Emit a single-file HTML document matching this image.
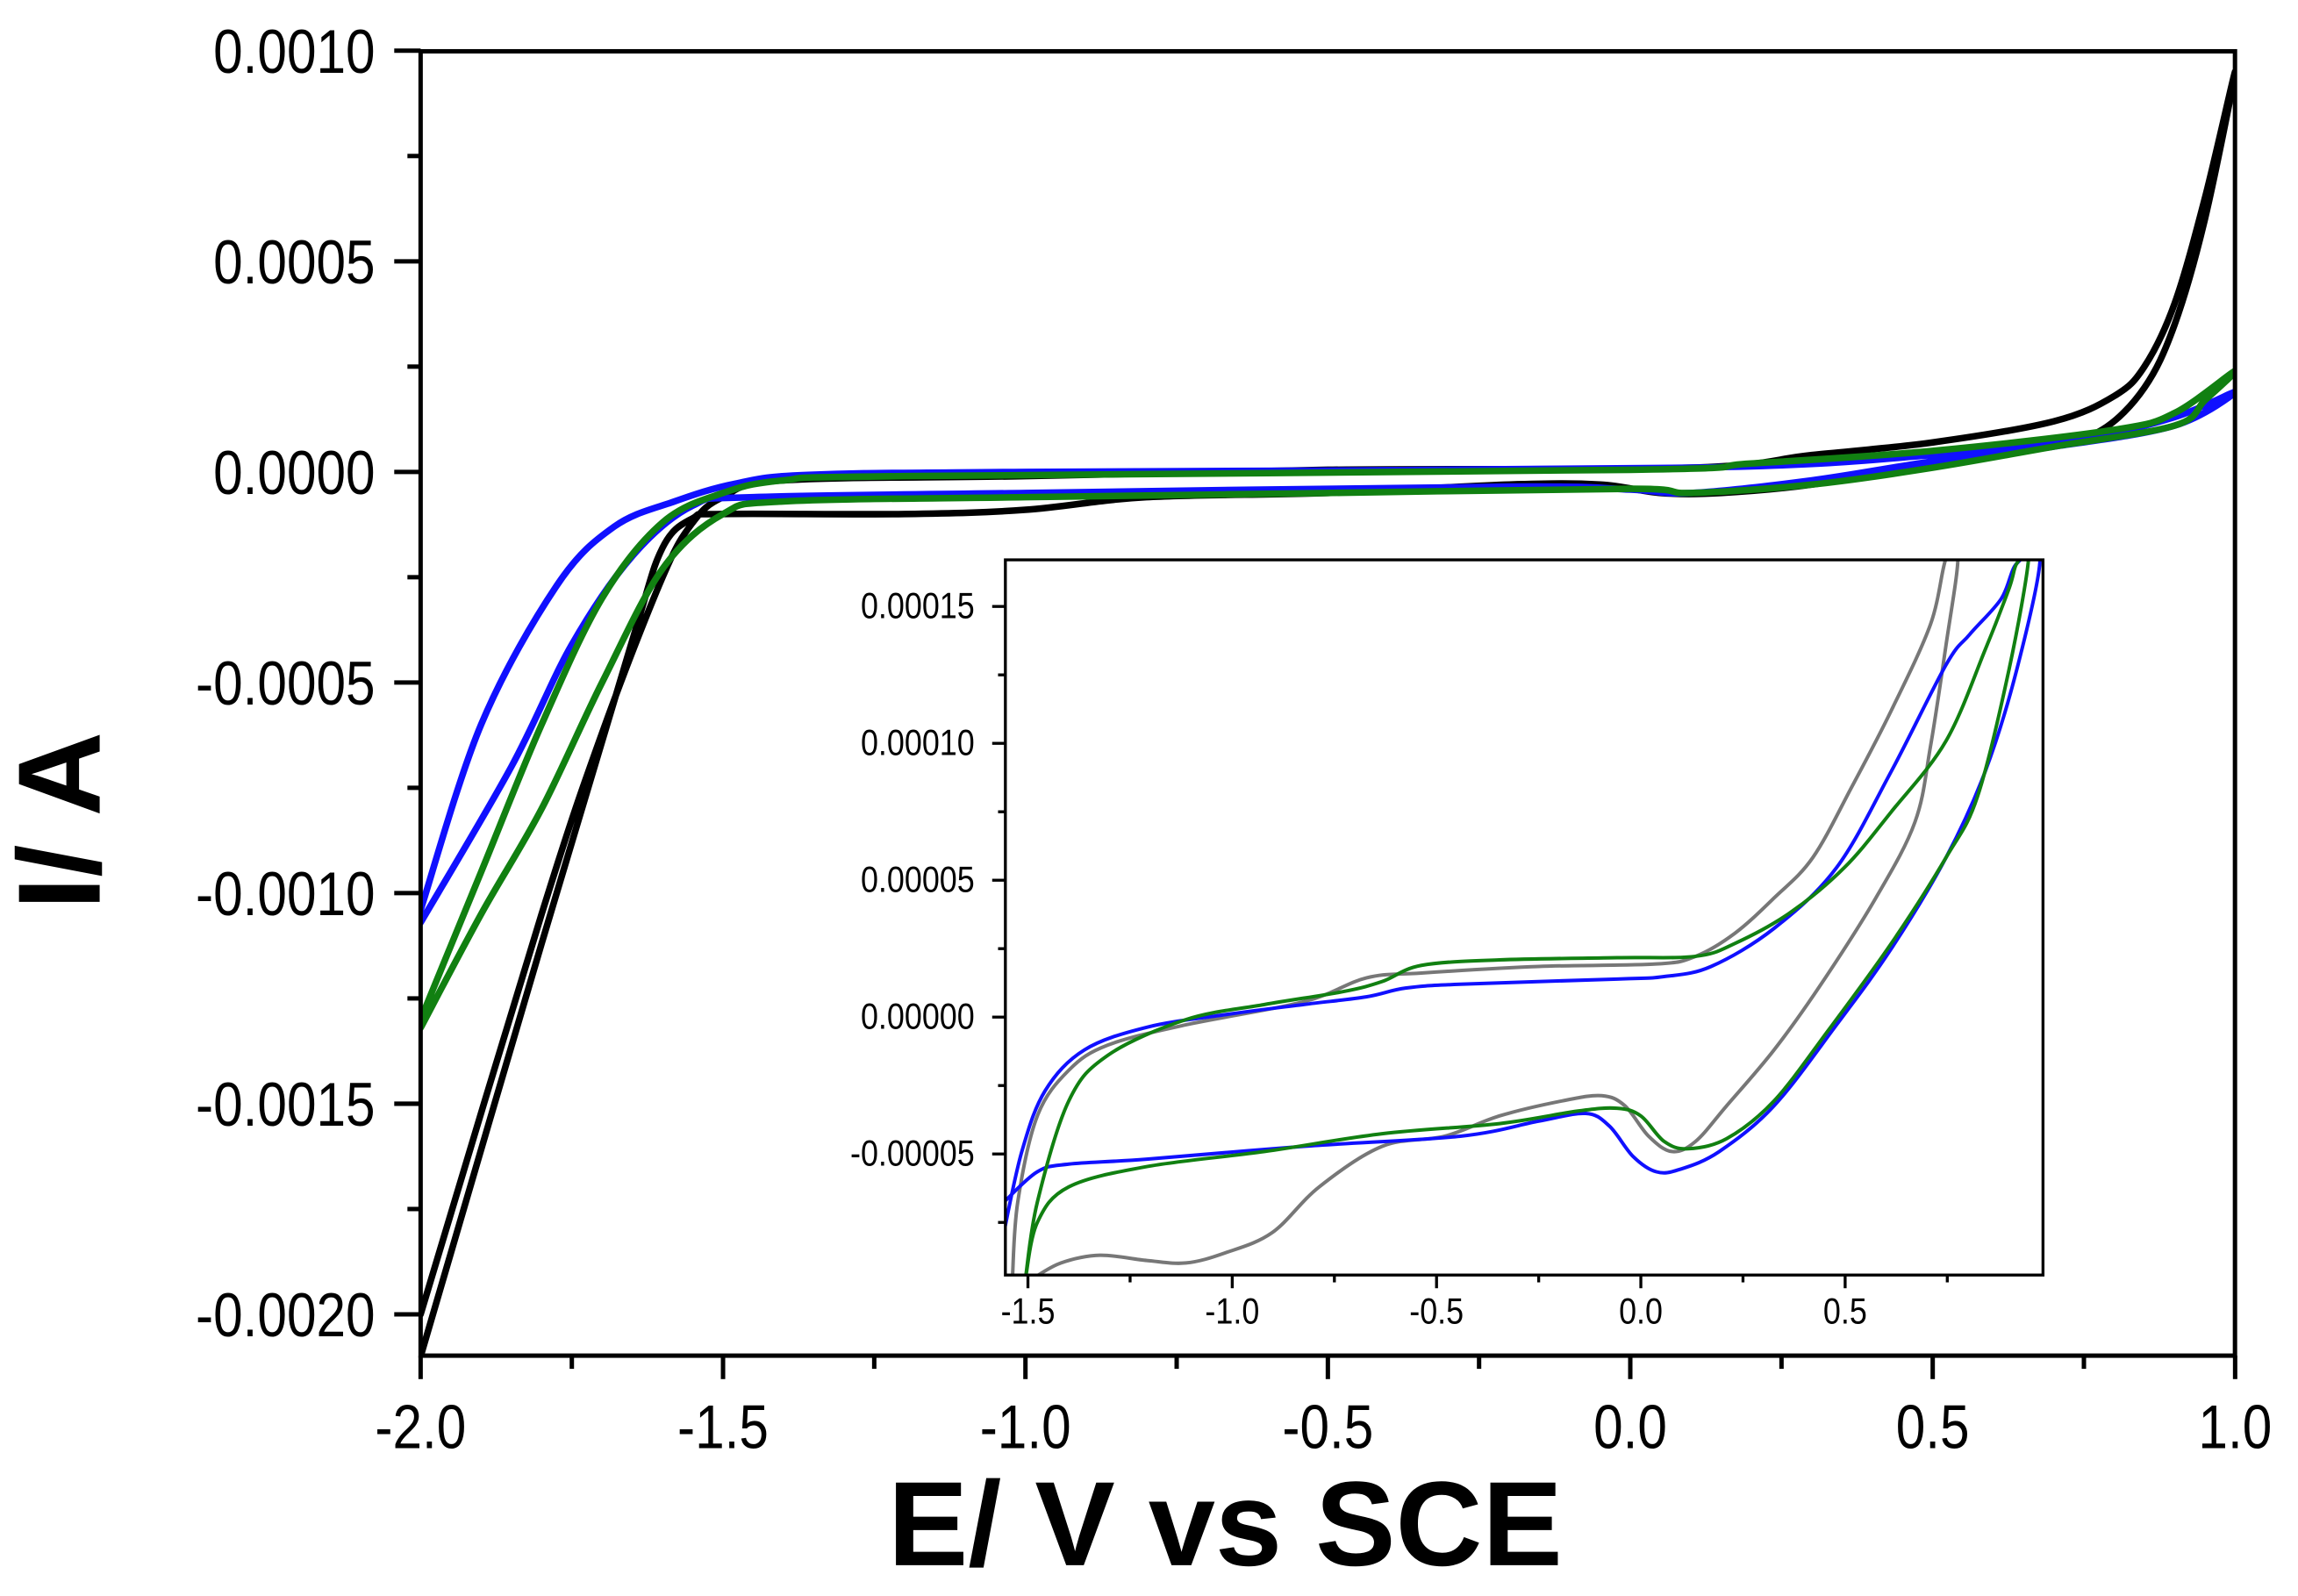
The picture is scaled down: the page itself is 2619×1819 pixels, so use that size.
<!DOCTYPE html>
<html><head><meta charset="utf-8"><style>
html,body{margin:0;padding:0;background:#fff}
svg{display:block}
text{font-family:"Liberation Sans",sans-serif}
</style></head><body>
<svg id="chart" width="2619" height="1819" viewBox="0 0 1568 1089" preserveAspectRatio="none" xmlns="http://www.w3.org/2000/svg">
<defs><clipPath id="mainClip"><rect x="287" y="35" width="1238" height="890"/></clipPath>
<clipPath id="insetClip"><rect x="686" y="382" width="708" height="488"/></clipPath></defs>
<rect x="0" y="0" width="1568" height="1089" fill="#fff"/>
<g id="main-series" clip-path="url(#mainClip)"></g>
<rect x="287" y="35" width="1238" height="890" fill="none" stroke="#000" stroke-width="3"/>
<g id="main-axes"></g>
<text x="836" y="1068" font-size="82" font-weight="bold" text-anchor="middle">E/ V vs SCE</text>
<text transform="translate(68,560) rotate(-90)" font-size="80" font-weight="bold" text-anchor="middle">I/ A</text>
<rect x="686" y="382" width="708" height="488" fill="#fff"/>
<g id="inset-series" clip-path="url(#insetClip)"></g>
<rect x="686" y="382" width="708" height="488" fill="none" stroke="#000" stroke-width="2"/>
<g id="inset-axes"></g>
</svg>
<script>
// ---- main chart data (E in V, I in A) ----
const blackE = [-2.0,-1.8,-1.65,-1.6,-1.55,-1.5,-1.2,-1.0,-0.8,-0.5,-0.2,-0.05,0.05,0.15,0.3,0.5,0.7,0.78,0.85,0.9,0.95,1.0,0.95,0.9,0.85,0.8,0.7,0.5,0.3,0.1,-0.5,-1.0,-1.4,-1.5,-1.55,-1.6,-1.7,-1.8,-2.0];
const blackI = [-0.0021,-0.00112,-0.0004,-0.00018,-0.00011,-0.0001,-0.0001,-0.00009,-0.00006,-0.00005,-0.00003,-0.00003,-0.00005,-0.00005,-0.00003,0.00002,0.00007,0.0001,0.0002,0.00035,0.0006,0.00095,0.00065,0.0004,0.00025,0.00018,0.00012,0.00007,0.00004,0.00001,0.000005,-0.00001,-0.00002,-0.00006,-0.00012,-0.00025,-0.00062,-0.00105,-0.002];
const blueE = [-2.0,-1.9,-1.775,-1.68,-1.58,-1.48,-1.36,-1.0,0.1,0.5,0.75,0.9,1.0,0.9,0.7,0.5,0.3,0.1,0.0,-0.2,-1.0,-1.45,-1.55,-1.65,-1.75,-1.85,-2.0];
const blueI = [-0.00104,-0.0006,-0.00027,-0.00013,-0.00007,-0.000028,-0.000007,0.0,0.00001,0.00004,0.00008,0.00013,0.00019,0.00011,0.00006,0.000025,-0.00002,-0.00005,-0.000042,-0.000035,-0.00005,-0.00006,-0.00008,-0.0002,-0.00041,-0.0007,-0.00107];
const greenE = [-2.0,-1.9,-1.8,-1.7,-1.6,-1.5,-1.4,-1.2,0.0,0.2,0.5,0.8,0.9,1.0,0.95,0.9,0.7,0.5,0.3,0.1,0.0,-0.5,-1.0,-1.4,-1.5,-1.6,-1.7,-1.8,-1.9,-2.0];
const greenI = [-0.0013,-0.00095,-0.0006,-0.0003,-0.00012,-0.00005,-0.00002,-0.00001,0.000005,0.00002,0.00005,0.0001,0.00014,0.00024,0.00017,0.00011,0.00006,0.00001,-0.00003,-0.00005,-0.00004,-0.00005,-0.00006,-0.00007,-0.0001,-0.00023,-0.0005,-0.0008,-0.00105,-0.00132];
const mainXTicks = [-2.0,-1.5,-1.0,-0.5,0.0,0.5,1.0];
const mainXLabels = ["-2.0","-1.5","-1.0","-0.5","0.0","0.5","1.0"];
const mainYTicks = [0.001,0.0005,0.0,-0.0005,-0.001,-0.0015,-0.002];
const mainYLabels = ["0.0010","0.0005","0.0000","-0.0005","-0.0010","-0.0015","-0.0020"];
// ---- inset data (E in V, I in 1e-5 A) ----
const grayInE = [-1.538,-1.525,-1.477,-1.4,-1.304,-1.113,-0.825,-0.672,-0.537,-0.25,0.038,0.134,0.23,0.326,0.421,0.517,0.613,0.709,0.747,0.776,0.747,0.709,0.671,0.575,0.441,0.326,0.21,0.134,0.076,0.019,-0.039,-0.096,-0.192,-0.346,-0.48,-0.633,-0.787,-0.902,-1.017,-1.113,-1.209,-1.324,-1.419,-1.487];
const grayInI = [-9.54,-6.76,-3.61,-1.94,-1.02,-0.28,0.56,1.43,1.61,1.85,1.94,2.22,3.06,4.35,5.83,8.43,11.2,14.35,16.76,16.76,13.6,9.9,7.13,4.35,1.2,-1.2,-3.24,-4.54,-4.91,-4.35,-3.24,-2.87,-3.06,-3.61,-4.35,-4.72,-6.2,-7.87,-8.61,-8.98,-8.89,-8.7,-8.98,-9.54];
const blueInE = [-1.559,-1.515,-1.458,-1.362,-1.209,-1.017,-0.825,-0.672,-0.576,-0.442,-0.058,0.057,0.172,0.326,0.479,0.613,0.747,0.805,0.882,0.92,0.977,0.92,0.843,0.747,0.613,0.479,0.326,0.192,0.096,0.038,-0.019,-0.077,-0.135,-0.25,-0.442,-0.825,-1.209,-1.4,-1.477,-1.559];
const blueInI = [-7.87,-4.91,-2.69,-1.2,-0.37,0.09,0.46,0.74,1.06,1.2,1.39,1.48,1.85,3.24,5.46,8.98,12.87,13.98,15.28,16.57,16.76,12.69,8.98,5.83,2.5,-0.28,-3.24,-4.91,-5.56,-5.65,-5.09,-3.98,-3.52,-3.8,-4.35,-4.72,-5.19,-5.37,-5.65,-6.76];
const greenInE = [-1.506,-1.477,-1.4,-1.304,-1.113,-0.921,-0.729,-0.633,-0.537,-0.346,-0.058,0.134,0.23,0.364,0.498,0.613,0.747,0.843,0.901,0.92,0.949,0.901,0.824,0.747,0.613,0.46,0.326,0.21,0.115,0.057,0.0,-0.058,-0.154,-0.346,-0.633,-0.921,-1.209,-1.4,-1.477,-1.506];
const greenInI = [-9.54,-6.76,-3.06,-1.39,-0.09,0.46,0.93,1.3,1.89,2.09,2.17,2.22,2.69,3.8,5.46,7.5,10.09,13.43,15.65,16.57,16.76,12.69,8.06,5.83,2.69,-0.46,-3.06,-4.44,-4.81,-4.54,-3.61,-3.33,-3.43,-3.89,-4.26,-4.91,-5.46,-6.2,-7.5,-9.54];
const inXTicks = [-1.5,-1.0,-0.5,0.0,0.5];
const inXLabels = ["-1.5","-1.0","-0.5","0.0","0.5"];
const inYTicks = [15,10,5,0,-5];
const inYLabels = ["0.00015","0.00010","0.00005","0.00000","-0.00005"];

const NS = "http://www.w3.org/2000/svg";
const SX = 0.86;
const mx = e => 287 + (e + 2) * 412.7;
const my = i => 322 - i / 0.0005 * 143.7;
const ix = e => 701.4 + (e + 1.5) * 278.8;
const iy = i => 694 - i / 5 * 93.4;

function mk(tag, attrs, parent) {
  const el = document.createElementNS(NS, tag);
  for (const k in attrs) el.setAttribute(k, attrs[k]);
  parent.appendChild(el);
  return el;
}
function smooth(pts) {
  let d = "M" + pts[0][0].toFixed(2) + "," + pts[0][1].toFixed(2);
  for (let k = 0; k < pts.length - 1; k++) {
    const p0 = pts[Math.max(k - 1, 0)], p1 = pts[k], p2 = pts[k + 1], p3 = pts[Math.min(k + 2, pts.length - 1)];
    const c1x = p1[0] + (p2[0] - p0[0]) / 6, c1y = p1[1] + (p2[1] - p0[1]) / 6;
    const c2x = p2[0] - (p3[0] - p1[0]) / 6, c2y = p2[1] - (p3[1] - p1[1]) / 6;
    d += " C" + c1x.toFixed(2) + "," + c1y.toFixed(2) + " " + c2x.toFixed(2) + "," + c2y.toFixed(2) + " " + p2[0].toFixed(2) + "," + p2[1].toFixed(2);
  }
  return d;
}
function series(g, E, I, fx, fy, color, w, name) {
  const pts = E.map((e, k) => [fx(e), fy(I[k])]);
  const p = mk("path", {d: smooth(pts), fill: "none", stroke: color, "stroke-width": w, "stroke-linejoin": "round", "stroke-linecap": "round"}, g);
  
  
}
function label(parent, x, y, size, anchor, txt) {
  const t = mk("text", {x: (x / SX).toFixed(2), y: y, "font-size": size, "text-anchor": anchor, transform: "scale(" + SX + ",1)"}, parent);
  t.textContent = txt;
  return t;
}
const mg = document.getElementById("main-series");
series(mg, blackE, blackI, mx, my, "#000", 4.5, "series-black");
series(mg, blueE, blueI, mx, my, "#1010ff", 4.5, "series-blue");
series(mg, greenE, greenI, mx, my, "#118011", 4.5, "series-green");
const ig = document.getElementById("inset-series");
series(ig, grayInE, grayInI, ix, iy, "#777", 2.4, "inset-series-gray");
series(ig, blueInE, blueInI, ix, iy, "#1010ff", 2.4, "inset-series-blue");
series(ig, greenInE, greenInI, ix, iy, "#118011", 2.4, "inset-series-green");

// main axes
const ma = document.getElementById("main-axes");
mainXTicks.forEach((v, k) => {
  const x = mx(v);
  const t = mk("line", {x1: x, x2: x, y1: 925, y2: 941, stroke: "#000", "stroke-width": 3}, ma);
  
  
  if (k < mainXTicks.length - 1) {
    const xm = mx(v + 0.25);
    const m = mk("line", {x1: xm, x2: xm, y1: 925, y2: 934, stroke: "#000", "stroke-width": 3}, ma);
    
    
  }
  const lb = label(ma, x, 988, 42, "middle", mainXLabels[k]);
  
  
});
mainYTicks.forEach((v, k) => {
  const y = my(v);
  const t = mk("line", {x1: 269, x2: 287, y1: y, y2: y, stroke: "#000", "stroke-width": 3}, ma);
  
  
  const ym = my(v - 0.00025);
  if (ym < 925) {
    const m = mk("line", {x1: 278, x2: 287, y1: ym, y2: ym, stroke: "#000", "stroke-width": 3}, ma);
    
    
  }
  const lb = label(ma, 256, y + 15, 42, "end", mainYLabels[k]);
  
  
});
// inset axes
const ia = document.getElementById("inset-axes");
inXTicks.forEach((v, k) => {
  const x = ix(v);
  const t = mk("line", {x1: x, x2: x, y1: 870, y2: 879, stroke: "#000", "stroke-width": 2}, ia);
  
  
  const xm = ix(v + 0.25);
  if (xm < 1394) {
    const m = mk("line", {x1: xm, x2: xm, y1: 870, y2: 875, stroke: "#000", "stroke-width": 2}, ia);
    
    
  }
  const lb = label(ia, x, 903, 25, "middle", inXLabels[k]);
  
  
});
inYTicks.forEach((v, k) => {
  const y = iy(v);
  const t = mk("line", {x1: 677, x2: 686, y1: y, y2: y, stroke: "#000", "stroke-width": 2}, ia);
  
  
  const ym = iy(v - 2.5);
  if (ym < 870) {
    const m = mk("line", {x1: 681, x2: 686, y1: ym, y2: ym, stroke: "#000", "stroke-width": 2}, ia);
    
    
  }
  const lb = label(ia, 665, y + 8, 25, "end", inYLabels[k]);
  
  
});
</script>
</body></html>
